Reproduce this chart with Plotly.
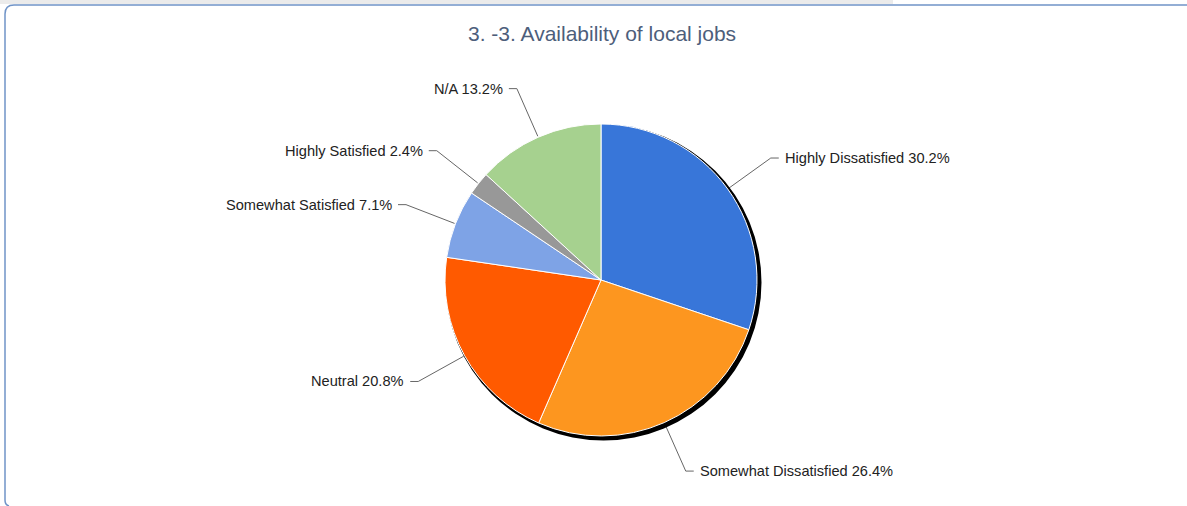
import math
import plotly.graph_objects as go

# Survey answers, clockwise from 12 o'clock
categories = [
    "Highly Dissatisfied",
    "Somewhat Dissatisfied",
    "Neutral",
    "Somewhat Satisfied",
    "Highly Satisfied",
    "N/A",
]
shares = [30.2, 26.4, 20.8, 7.1, 2.4, 13.2]
slice_colors = ["#3876d9", "#fd961f", "#ff5a00", "#7ea3e6", "#989898", "#a6d18f"]
chart_title = "3. -3. Availability of local jobs"

# Canvas and pie geometry (pixels)
W, H = 1187, 506
CX, CY, R = 601, 280, 156


def domain_for(cx, cy, r):
    return dict(
        x=[(cx - r) / W, (cx + r) / W],
        y=[1 - (cy + r) / H, 1 - (cy - r) / H],
    )


fig = go.Figure()

# Drop shadow under the pie
fig.add_trace(go.Pie(
    values=[1],
    marker=dict(colors=["#000000"], line=dict(width=0)),
    textinfo="none",
    hoverinfo="skip",
    showlegend=False,
    sort=False,
    domain=domain_for(CX + 2.5, CY + 2.5, R + 2),
))

fig.add_trace(go.Pie(
    labels=categories,
    values=shares,
    marker=dict(colors=slice_colors, line=dict(color="#ffffff", width=1)),
    textinfo="none",
    sort=False,
    direction="clockwise",
    rotation=0,
    showlegend=False,
    domain=domain_for(CX, CY, R),
))

# Leader lines with an elbow, plus the outside labels
total = sum(shares)
cum = 0.0
annotations = []
for name, v in zip(categories, shares):
    mid = (cum + v / 2) / total * 2 * math.pi
    cum += v
    s, c = math.sin(mid), math.cos(mid)
    x0, y0 = CX + (R + 1) * s, CY - (R + 1) * c
    x1, y1 = CX + R * 1.34 * s, CY - R * 1.34 * c
    side = 1 if s >= 0 else -1
    x2 = x1 + 8 * side
    fig.add_trace(go.Scatter(
        x=[x0, x1, x2], y=[y0, y1, y1],
        mode="lines",
        line=dict(color="#666666", width=1),
        hoverinfo="skip",
        showlegend=False,
        xaxis="x", yaxis="y",
    ))
    annotations.append(dict(
        x=x2 + 4 * side, y=y1, xref="x", yref="y",
        text=f"{name} {v}%",
        showarrow=False,
        xanchor="left" if side > 0 else "right",
        yanchor="middle",
        font=dict(family="Liberation Sans, Arial, sans-serif", size=14.6, color="#222222"),
    ))

annotations.append(dict(
    x=602, y=33, xref="x", yref="y",
    text=chart_title,
    showarrow=False,
    xanchor="center", yanchor="middle",
    font=dict(family="Liberation Sans, Arial, sans-serif", size=21, color="#4d5e7b"),
))

shapes = [
    # grey strip along the top edge
    dict(type="rect", xref="x", yref="y", x0=0, x1=893, y0=0, y1=4,
         fillcolor="#ebebeb", line=dict(width=0), layer="below"),
    # panel frame with rounded corners
    dict(type="path", xref="x", yref="y",
         path="M 1190,5 L 14,5 Q 5,5 5,14 L 5,500 Q 5,505 9,506",
         line=dict(color="#7094c8", width=1.5), layer="above"),
]

fig.update_layout(
    width=W, height=H,
    margin=dict(l=0, r=0, t=0, b=0),
    paper_bgcolor="#ffffff",
    plot_bgcolor="rgba(0,0,0,0)",
    xaxis=dict(range=[0, W], visible=False, fixedrange=True, domain=[0, 1]),
    yaxis=dict(range=[H, 0], visible=False, fixedrange=True, domain=[0, 1]),
    annotations=annotations,
    shapes=shapes,
    showlegend=False,
)

fig.write_html("out.html")
